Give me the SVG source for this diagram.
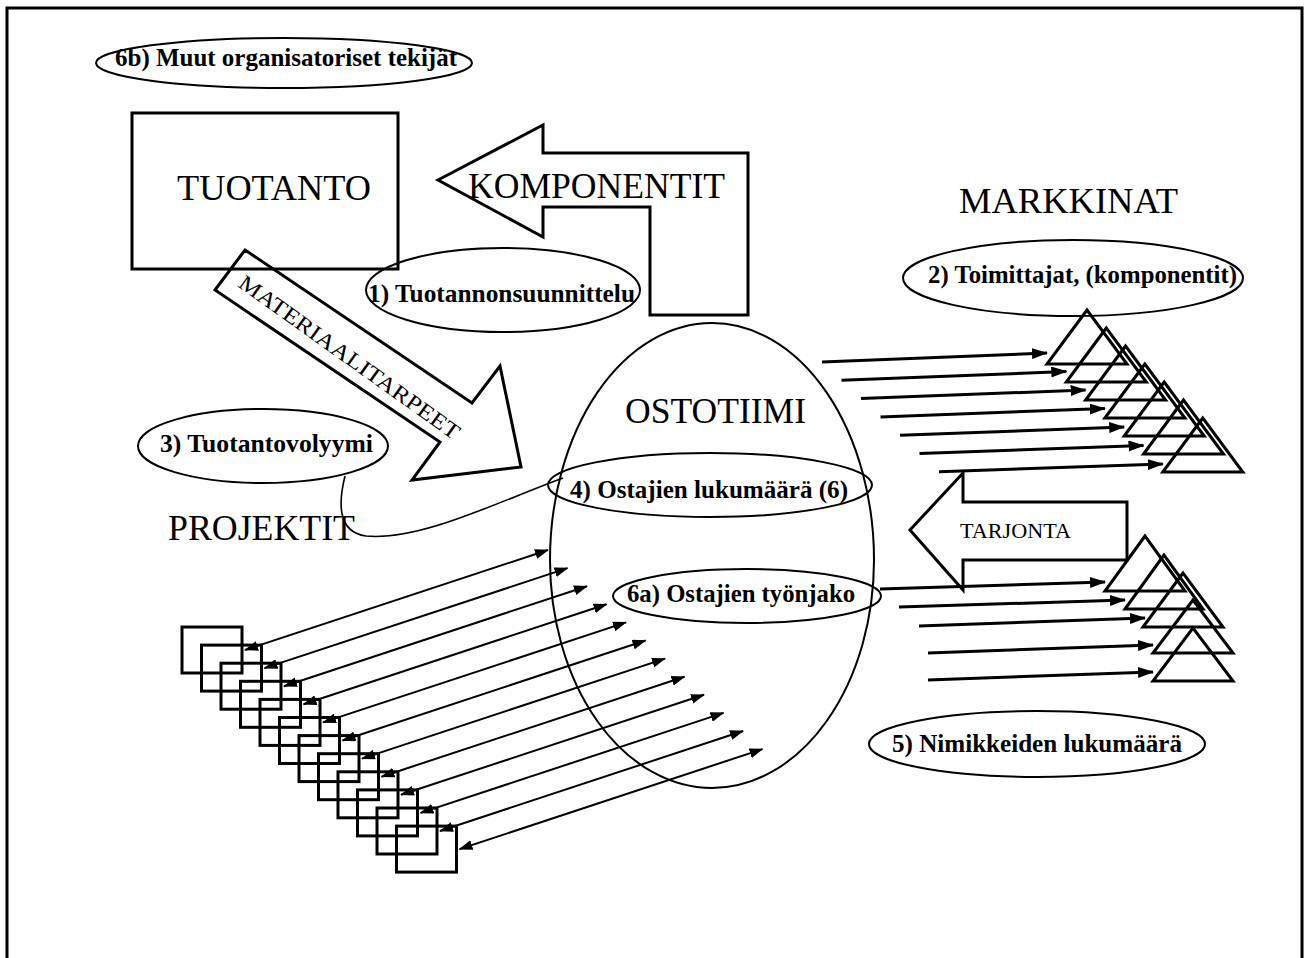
<svg xmlns="http://www.w3.org/2000/svg" width="1309" height="958" viewBox="0 0 1309 958">
  <style>
    .frame { fill: none; stroke: #000; stroke-width: 3; }
    .shape { fill: none; stroke: #000; stroke-width: 3; stroke-linejoin: miter; }
    .oval { fill: none; stroke: #000; stroke-width: 2; }
    .title { font-family: "Liberation Serif", "Times New Roman", serif; font-size: 35px; fill: #000; }
    .label { font-family: "Liberation Serif", "Times New Roman", serif; font-size: 25px; font-weight: bold; fill: #000; }
    .small { font-family: "Liberation Serif", "Times New Roman", serif; font-size: 22px; fill: #000; }
    .flow { fill: none; stroke: #000; stroke-width: 3; }
    .link { fill: none; stroke: #000; stroke-width: 2; }
    .curve { fill: none; stroke: #000; stroke-width: 1.6; }
  </style>
  <defs>
    <marker id="head" markerUnits="userSpaceOnUse" markerWidth="16" markerHeight="11" refX="15" refY="5.5" orient="auto">
      <path d="M0,0 L16,5.5 L0,11 Z" fill="#000"/>
    </marker>
    <marker id="tip" markerUnits="userSpaceOnUse" markerWidth="14" markerHeight="10" refX="13" refY="5" orient="auto-start-reverse">
      <path d="M0,0 L14,5 L0,10 Z" fill="#000"/>
    </marker>
  </defs>

  <rect width="1309" height="958" fill="#fff"/>
  <path class="frame" d="M7,958 V8 H1302 V958"/>

  <!-- organisational factors -->
  <g id="muut-tekijat">
    <ellipse class="oval" cx="284" cy="63" rx="188" ry="25"/>
    <text class="label" x="115" y="66" textLength="342" lengthAdjust="spacingAndGlyphs">6b) Muut organisatoriset tekijät</text>
  </g>

  <!-- production -->
  <g id="tuotanto">
    <rect class="shape" x="132" y="113" width="266" height="156"/>
    <text class="title" x="177" y="200" textLength="194" lengthAdjust="spacingAndGlyphs">TUOTANTO</text>
  </g>

  <!-- components arrow back to production -->
  <g id="komponentit">
    <polygon class="shape" points="438,180 543,125 543,153 748,153 748,315 650,315 650,207 543,207 543,237"/>
    <text class="title" x="468" y="198" textLength="257" lengthAdjust="spacingAndGlyphs">KOMPONENTIT</text>
  </g>

  <g id="tuotannonsuunnittelu">
    <ellipse class="oval" cx="503" cy="290" rx="137" ry="42"/>
    <text class="label" x="368" y="302" textLength="267" lengthAdjust="spacingAndGlyphs">1) Tuotannonsuunnittelu</text>
  </g>

  <!-- material requirements arrow -->
  <g id="materiaalitarpeet">
    <polygon class="shape" points="245,250 472,403 500,366 521,467 412,480 440,442 215,290"/>
    <text class="small" transform="translate(237,286) rotate(35.5)" x="0" y="0" font-size="25" textLength="266" lengthAdjust="spacingAndGlyphs">MATERIAALITARPEET</text>
  </g>

  <g id="markkinat">
    <text class="title" x="959" y="213" textLength="219" lengthAdjust="spacingAndGlyphs">MARKKINAT</text>
  </g>

  <g id="toimittajat">
    <ellipse class="oval" cx="1073" cy="278" rx="170" ry="38"/>
    <text class="label" x="928" y="283" textLength="309" lengthAdjust="spacingAndGlyphs">2) Toimittajat, (komponentit)</text>
  </g>

  <g id="tuotantovolyymi">
    <ellipse class="oval" cx="263" cy="446" rx="125" ry="37"/>
    <text class="label" x="160" y="452" textLength="213" lengthAdjust="spacingAndGlyphs">3) Tuotantovolyymi</text>
  </g>

  <g id="projektit">
    <text class="title" x="168" y="540" font-size="33" textLength="187" lengthAdjust="spacingAndGlyphs">PROJEKTIT</text>
  </g>

  <!-- purchasing team -->
  <g id="ostotiimi">
    <path class="oval" stroke-width="2.5" d="M550,560 A162,237 0 0 1 874,560 A162,228 0 0 1 550,560 Z"/>
    <text class="title" x="625" y="423" textLength="181" lengthAdjust="spacingAndGlyphs">OSTOTIIMI</text>
  </g>

  <g id="ostajien-lukumaara">
    <ellipse class="oval" cx="710" cy="485" rx="162" ry="32"/>
    <text class="label" x="570" y="498" textLength="278" lengthAdjust="spacingAndGlyphs">4) Ostajien lukumäärä (6)</text>
  </g>

  <g id="ostajien-tyonjako">
    <ellipse class="oval" cx="747" cy="596" rx="134" ry="27"/>
    <text class="label" x="627" y="602" textLength="228" lengthAdjust="spacingAndGlyphs">6a) Ostajien työnjako</text>
  </g>

  <g id="nimikkeiden-lukumaara">
    <ellipse class="oval" cx="1037" cy="744" rx="168" ry="33"/>
    <text class="label" x="892" y="752" textLength="290" lengthAdjust="spacingAndGlyphs">5) Nimikkeiden lukumäärä</text>
  </g>

  <!-- supply arrow -->
  <g id="tarjonta">
    <polygon class="shape" points="910,530 963,473 963,502 1127,502 1127,560 963,560 963,590"/>
    <text class="small" x="960" y="538" textLength="111" lengthAdjust="spacingAndGlyphs">TARJONTA</text>
  </g>

  <!-- supplier triangles, component market -->
  <g id="toimittajat-komponentit" class="shape">
    <polygon points="1087,310 1047,364 1127,364"/>
    <polygon points="1106.3,328 1066.3,382 1146.3,382"/>
    <polygon points="1125.6,346 1085.6,400 1165.6,400"/>
    <polygon points="1144.9,364 1104.9,418 1184.9,418"/>
    <polygon points="1164.2,382 1124.2,436 1204.2,436"/>
    <polygon points="1183.5,400 1143.5,454 1223.5,454"/>
    <polygon points="1202.8,418 1162.8,472 1242.8,472"/>
  </g>

  <!-- supplier triangles, item market -->
  <g id="toimittajat-nimikkeet" class="shape">
    <polygon points="1145,536 1105,591 1185,591"/>
    <polygon points="1164,555 1125,609 1203,609"/>
    <polygon points="1183,573 1143,627 1223,627"/>
    <polygon points="1193,600 1153,653 1233,653"/>
    <polygon points="1193,628 1153,681 1233,681"/>
  </g>

  <!-- project boxes -->
  <g id="projektilaatikot" class="shape">
    <rect x="182" y="627" width="60" height="46"/>
    <rect x="201.5" y="645.1" width="60" height="46"/>
    <rect x="221" y="663.2" width="60" height="46"/>
    <rect x="240.5" y="681.3" width="60" height="46"/>
    <rect x="260" y="699.4" width="60" height="46"/>
    <rect x="279.5" y="717.5" width="60" height="46"/>
    <rect x="299" y="735.6" width="60" height="46"/>
    <rect x="318.5" y="753.7" width="60" height="46"/>
    <rect x="338" y="771.8" width="60" height="46"/>
    <rect x="357.5" y="789.9" width="60" height="46"/>
    <rect x="377" y="808" width="60" height="46"/>
    <rect x="396.5" y="826.1" width="60" height="46"/>
  </g>

  <g id="yhteydet">
    <!-- volume link into the team -->
    <path class="curve" d="M345,476 C339,500 336,532 366,536 C420,541 495,503 563,478"/>

    <!-- team to component suppliers -->
    <g class="flow" marker-end="url(#head)">
      <line x1="822" y1="362" x2="1047" y2="353"/>
      <line x1="841.5" y1="380.3" x2="1066.3" y2="371.5"/>
      <line x1="861" y1="398.6" x2="1085.6" y2="390"/>
      <line x1="880.5" y1="416.9" x2="1104.9" y2="408.5"/>
      <line x1="900" y1="435.2" x2="1124.2" y2="427"/>
      <line x1="919.5" y1="453.5" x2="1143.5" y2="445.5"/>
      <line x1="939" y1="471.8" x2="1162.8" y2="464"/>
    </g>

    <!-- team to item suppliers -->
    <g class="flow" marker-end="url(#head)">
      <line x1="880" y1="589" x2="1105" y2="582"/>
      <line x1="899" y1="607" x2="1125" y2="600"/>
      <line x1="919" y1="626" x2="1145" y2="618"/>
      <line x1="928" y1="653" x2="1153" y2="645"/>
      <line x1="928" y1="680" x2="1153" y2="672"/>
    </g>

    <!-- projects to and from the team -->
    <g class="link" marker-start="url(#tip)" marker-end="url(#tip)">
      <line x1="245" y1="650" x2="548" y2="550"/>
      <line x1="264.5" y1="668.1" x2="567.5" y2="568.1"/>
      <line x1="284" y1="686.2" x2="587" y2="586.2"/>
      <line x1="303.5" y1="704.3" x2="606.5" y2="604.3"/>
      <line x1="323" y1="722.4" x2="626" y2="622.4"/>
      <line x1="342.5" y1="740.5" x2="645.5" y2="640.5"/>
      <line x1="362" y1="758.6" x2="665" y2="658.6"/>
      <line x1="381.5" y1="776.7" x2="684.5" y2="676.7"/>
      <line x1="401" y1="794.8" x2="704" y2="694.8"/>
      <line x1="420.5" y1="812.9" x2="723.5" y2="712.9"/>
      <line x1="440" y1="831" x2="743" y2="731"/>
      <line x1="459.5" y1="849.1" x2="762.5" y2="749.1"/>
    </g>
  </g>
</svg>
